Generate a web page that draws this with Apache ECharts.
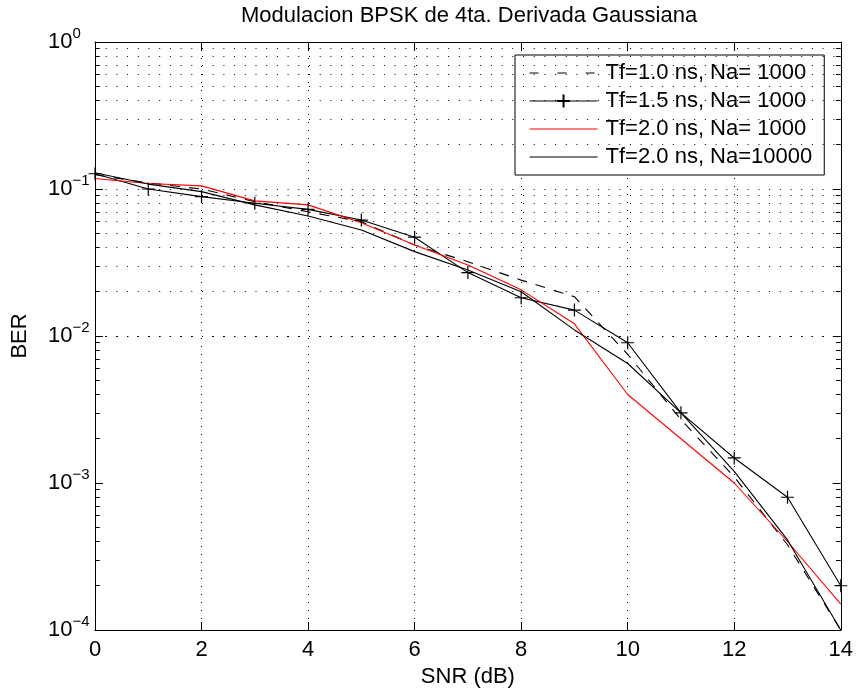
<!DOCTYPE html>
<html><head><meta charset="utf-8">
<script src="https://cdn.jsdelivr.net/npm/echarts@6/dist/echarts.min.js"></script>
<style>html,body{margin:0;padding:0;background:#fff}#c{width:856px;height:693px}</style>
</head><body><div id="c"></div>
<script>
// ---- data ----
const snr = [0,1,2,3,4,5,6,7,8,9,10,11,12,13,14];
const berTf10 = [0.125,0.11,0.10,0.082,0.070,0.060,0.0416,0.032,0.024,0.0185,0.0075,0.0027,0.0011,0.00038,0.0001];
const berTf15 = [0.127,0.100,0.0887,0.080,0.0727,0.0615,0.047,0.027,0.0182,0.015,0.009,0.003,0.00148,0.0008,0.0002];
const berTf20 = [0.118,0.109,0.105,0.083,0.078,0.059,0.0416,0.0304,0.0206,0.0121,0.004,0.002,0.001,0.0004,0.00015];
const berTf20N = [0.129,0.108,0.096,0.078,0.0655,0.0526,0.0375,0.0281,0.020,0.011,0.0065,0.003,0.0012,0.00041,0.0001];
const seriesNames = ['Tf=1.0 ns, Na= 1000','Tf=1.5 ns, Na= 1000','Tf=2.0 ns, Na= 1000','Tf=2.0 ns, Na=10000'];
const xTickStep = 2;
const decades = [1e-4,1e-3,1e-2,1e-1];
const titleText = 'Modulacion BPSK de 4ta. Derivada Gaussiana';
const xName = 'SNR (dB)';
const yName = 'BER';

// ---- helpers ----
const FONT = "'Liberation Sans', Arial, Helvetica, sans-serif";
const pair = (xs, ys) => xs.map((x,i)=>[x, ys[i]]);
const minorVals = [];
decades.forEach(d => { for (let m=2;m<=9;m++) minorVals.push(m*d); });
const gridVals = minorVals.concat(decades.slice(1));
const xMin = snr[0], xMax = snr[snr.length-1];
const tickLenUnits = 0.09;
const minorTickLines = [];
minorVals.forEach(v => {
  minorTickLines.push([{coord:[xMin, v]},{coord:[xMin+tickLenUnits, v]}]);
  minorTickLines.push([{coord:[xMax-tickLenUnits, v]},{coord:[xMax, v]}]);
});
const plusPath = 'path://M0,6H12M6,0V12';

const chart = echarts.init(document.getElementById('c'));
chart.setOption({
  animation: false,
  backgroundColor: '#fff',
  textStyle: {fontFamily: FONT, color: '#000'},
  title: {
    text: titleText, left: 241, top: 4, padding: 0,
    textStyle: {fontFamily: FONT, fontSize: 22, fontWeight: 'normal', color: '#000', lineHeight: 24}
  },
  grid: {left: 95, right: 14, top: 42, bottom: 63, show: false},
  legend: {
    data: [
      {name: seriesNames[0], itemStyle: {opacity: 0}, lineStyle: {type: [9, 19], width: 1.1, color: '#000'}},
      {name: seriesNames[1], lineStyle: {width: 1.1, color: '#000'}},
      {name: seriesNames[2], itemStyle: {opacity: 0}, lineStyle: {width: 1.1, color: '#ff0000'}},
      {name: seriesNames[3], itemStyle: {opacity: 0}, lineStyle: {width: 1.1, color: '#000'}}
    ],
    orient: 'vertical', left: 515, top: 55,
    padding: [7, 12, 7, 14],
    itemWidth: 68, itemHeight: 16, itemGap: 6,
    backgroundColor: '#fff', borderColor: '#000', borderWidth: 1, borderRadius: 0,
    textStyle: {fontFamily: FONT, fontSize: 22, color: '#000', padding: [0,0,0,3], lineHeight: 22}
  },
  xAxis: [{
    type: 'value', min: xMin, max: xMax, interval: xTickStep, position: 'bottom',
    name: xName, nameLocation: 'middle', nameGap: 30,
    nameTextStyle: {fontFamily: FONT, fontSize: 22, color: '#000'},
    axisLine: {show: true, onZero: false, lineStyle: {color: '#000', width: 1}},
    axisTick: {show: true, inside: true, length: 8, lineStyle: {color: '#000'}},
    axisLabel: {fontFamily: FONT, fontSize: 22, color: '#000', margin: 9},
    splitLine: {show: true, lineStyle: {color: '#000', width: 1, type: [1, 7]}}
  },{
    type: 'value', min: xMin, max: xMax, interval: xTickStep, position: 'top',
    axisLine: {show: true, onZero: false, lineStyle: {color: '#000', width: 1}},
    axisTick: {show: true, inside: true, length: 8, lineStyle: {color: '#000'}},
    axisLabel: {show: false}, splitLine: {show: false}
  }],
  yAxis: [{
    type: 'log', logBase: 10, min: 1e-4, max: 1, interval: 1, position: 'left',
    name: yName, nameLocation: 'middle', nameGap: 64, nameRotate: 90,
    nameTextStyle: {fontFamily: FONT, fontSize: 22, color: '#000'},
    axisLine: {show: true, onZero: false, lineStyle: {color: '#000', width: 1}},
    axisTick: {show: true, inside: true, length: 8, lineStyle: {color: '#000'}},
    axisLabel: {
      align: 'left', margin: 47,
      formatter: v => {
        const e = Math.round(Math.log10(v));
        return '{b|10}{s|' + (e < 0 ? '\u2212' + (-e) : String(e)) + '}';
      },
      rich: {
        b: {fontFamily: FONT, fontSize: 22, color: '#000', lineHeight: 22, verticalAlign: 'bottom'},
        s: {fontFamily: FONT, fontSize: 15, color: '#000', lineHeight: 16, padding: [0,0,12,0], verticalAlign: 'bottom'}
      }
    },
    splitLine: {show: false}
  },{
    type: 'log', logBase: 10, min: 1e-4, max: 1, interval: 1, position: 'right',
    axisLine: {show: true, onZero: false, lineStyle: {color: '#000', width: 1}},
    axisTick: {show: true, inside: true, length: 8, lineStyle: {color: '#000'}},
    axisLabel: {show: false}, splitLine: {show: false}
  }],
  series: [
    {
      name: '_grid', type: 'line', data: [], silent: true, z: 1,
      markLine: {
        silent: true, symbol: ['none','none'], label: {show: false}, animation: false,
        lineStyle: {color: '#000', width: 1, type: [1, 9.7]},
        emphasis: {disabled: true},
        data: gridVals.map(v => ({yAxis: v}))
      }
    },
    {
      name: '_minorTicks', type: 'line', data: [], silent: true, z: 1,
      markLine: {
        silent: true, symbol: ['none','none'], label: {show: false}, animation: false,
        lineStyle: {color: '#000', width: 1, type: 'solid'},
        emphasis: {disabled: true},
        data: minorTickLines
      }
    },
    {
      name: seriesNames[0], type: 'line', data: pair(snr, berTf10), symbol: 'none', z: 3,
      lineStyle: {color: '#000', width: 1.1, type: [10, 9]}, itemStyle: {color: '#000'}
    },
    {
      name: seriesNames[1], type: 'line', data: pair(snr, berTf15), z: 3,
      symbol: plusPath, symbolSize: 13, showSymbol: true, showAllSymbol: true,
      lineStyle: {color: '#000', width: 1.1},
      itemStyle: {color: '#000', borderColor: '#000', borderWidth: 1.2}
    },
    {
      name: seriesNames[2], type: 'line', data: pair(snr, berTf20), symbol: 'none', z: 3,
      lineStyle: {color: '#ff0000', width: 1.1}, itemStyle: {color: '#ff0000'}
    },
    {
      name: seriesNames[3], type: 'line', data: pair(snr, berTf20N), symbol: 'none', z: 3,
      lineStyle: {color: '#000', width: 1.1}, itemStyle: {color: '#000'}
    }
  ]
});
</script>
</body></html>
